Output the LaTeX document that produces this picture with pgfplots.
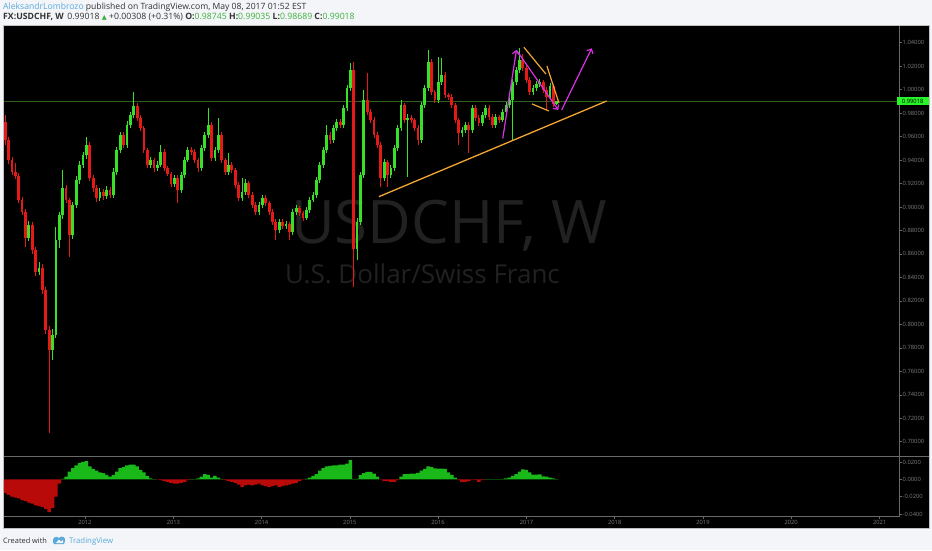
\documentclass[border=0pt]{standalone}
\usepackage{fontspec}
\setmainfont{Open Sans}
\newfontfamily\dejavu{DejaVu Sans}
\usepackage{pgfplots}
\pgfplotsset{compat=1.18}
\usepackage{pgfplotstable}
\usetikzlibrary{arrows.meta}

\definecolor{bgc}{RGB}{243,245,248}
\definecolor{upc}{RGB}{55,225,40}
\definecolor{dnc}{RGB}{230,25,25}
\definecolor{macdg}{RGB}{25,185,25}
\definecolor{macdr}{RGB}{185,10,10}
\definecolor{axgray}{RGB}{105,105,105}
\definecolor{lblgray}{RGB}{125,125,125}
\definecolor{pline}{RGB}{45,95,30}
\definecolor{wm}{RGB}{33,33,33}
\definecolor{orng}{RGB}{245,165,50}
\definecolor{mgnt}{RGB}{220,50,230}
\definecolor{tvblue}{RGB}{90,170,220}
\definecolor{hdr}{RGB}{50,50,50}
\definecolor{hgreen}{RGB}{60,175,60}
\definecolor{lastbox}{RGB}{40,245,40}

% weekly index (weeks since 1 Jan 2011), open high low close, histogram
\pgfplotstableread{
w o h l c m
5 0.9724 0.9784 0.9528 0.9571 -0.016
7 0.9571 0.9600 0.9370 0.9400 -0.018
9 0.9400 0.9430 0.9270 0.9298 -0.020
11 0.9298 0.9375 0.9240 0.9264 -0.021
13 0.9264 0.9290 0.9030 0.9060 -0.022
15 0.9060 0.9085 0.8930 0.8957 -0.024
17 0.8957 0.8980 0.8660 0.8736 -0.025
19 0.8736 0.8880 0.8710 0.8847 -0.027
21 0.8847 0.8870 0.8600 0.8634 -0.028
23 0.8634 0.8660 0.8410 0.8447 -0.030
25 0.8447 0.8530 0.8420 0.8481 -0.031
27 0.8481 0.8510 0.8260 0.8293 -0.032
29 0.8293 0.8320 0.7920 0.7952 -0.034
31 0.7952 0.7990 0.7070 0.7781 -0.038
33 0.7781 0.7960 0.7700 0.7910 -0.033
35 0.7910 0.8830 0.7880 0.8719 -0.020
37 0.8719 0.8960 0.8650 0.8932 -0.005
39 0.8932 0.9315 0.8900 0.9162 0.0005
41 0.9162 0.9190 0.9030 0.9060 0.003
43 0.9060 0.9080 0.8574 0.8762 0.009
45 0.8762 0.9040 0.8730 0.9017 0.013
47 0.9017 0.9260 0.8990 0.9230 0.016
49 0.9230 0.9390 0.9200 0.9358 0.019
51 0.9358 0.9470 0.9330 0.9443 0.020
53 0.9443 0.9597 0.9410 0.9528 0.021
55 0.9528 0.9550 0.9220 0.9247 0.015
57 0.9247 0.9270 0.9130 0.9162 0.012
59 0.9162 0.9190 0.9040 0.9077 0.010
61 0.9077 0.9160 0.9050 0.9128 0.008
63 0.9128 0.9150 0.9060 0.9094 0.007
65 0.9094 0.9175 0.9070 0.9145 0.005
67 0.9145 0.9170 0.9075 0.9102 0.003
69 0.9102 0.9330 0.9080 0.9298 0.005
71 0.9298 0.9510 0.9270 0.9486 0.009
73 0.9486 0.9640 0.9460 0.9614 0.013
75 0.9614 0.9640 0.9500 0.9528 0.014
77 0.9528 0.9730 0.9500 0.9699 0.016
79 0.9699 0.9810 0.9670 0.9784 0.017
81 0.9784 0.9980 0.9760 0.9861 0.017
83 0.9861 0.9890 0.9730 0.9758 0.015
85 0.9758 0.9780 0.9650 0.9673 0.011
87 0.9673 0.9690 0.9460 0.9486 0.008
89 0.9486 0.9500 0.9330 0.9358 0.004
91 0.9358 0.9430 0.9330 0.9400 0.001
93 0.9400 0.9420 0.9300 0.9332 0.0003
95 0.9332 0.9390 0.9310 0.9358 -0.0004
97 0.9358 0.9528 0.9340 0.9469 -0.001
99 0.9469 0.9490 0.9310 0.9332 -0.002
101 0.9332 0.9350 0.9260 0.9281 -0.003
103 0.9281 0.9300 0.9170 0.9196 -0.004
105 0.9196 0.9270 0.9170 0.9247 -0.005
107 0.9247 0.9270 0.9034 0.9145 -0.005
109 0.9145 0.9300 0.9120 0.9273 -0.004
111 0.9273 0.9430 0.9250 0.9400 -0.003
113 0.9400 0.9515 0.9380 0.9486 -0.001
115 0.9486 0.9510 0.9440 0.9469 0.0002
117 0.9469 0.9490 0.9375 0.9400 0.0002
119 0.9400 0.9420 0.9300 0.9332 0.001
121 0.9332 0.9530 0.9310 0.9503 0.003
123 0.9503 0.9640 0.9480 0.9614 0.006
125 0.9614 0.9844 0.9590 0.9699 0.005
127 0.9699 0.9720 0.9390 0.9417 0.002
129 0.9417 0.9510 0.9390 0.9486 0.004
131 0.9486 0.9758 0.9460 0.9614 0.002
133 0.9614 0.9640 0.9375 0.9400 0.0002
135 0.9400 0.9420 0.9270 0.9298 -0.001
137 0.9298 0.9460 0.9270 0.9358 -0.002
139 0.9358 0.9380 0.9290 0.9315 -0.003
141 0.9315 0.9335 0.9160 0.9188 -0.004
143 0.9188 0.9210 0.9050 0.9077 -0.006
145 0.9077 0.9247 0.9050 0.9128 -0.009
147 0.9128 0.9240 0.9100 0.9205 -0.007
149 0.9205 0.9225 0.9075 0.9102 -0.006
151 0.9102 0.9125 0.8990 0.9017 -0.007
153 0.9017 0.9040 0.8930 0.8957 -0.006
155 0.8957 0.9045 0.8930 0.9017 -0.005
157 0.9017 0.9105 0.8995 0.9077 -0.007
159 0.9077 0.9100 0.9010 0.9034 -0.008
161 0.9034 0.9055 0.8930 0.8957 -0.009
163 0.8957 0.8980 0.8845 0.8873 -0.008
165 0.8873 0.8895 0.8719 0.8804 -0.007
167 0.8804 0.8900 0.8780 0.8873 -0.009
169 0.8873 0.8895 0.8815 0.8839 -0.008
171 0.8839 0.8880 0.8810 0.8856 -0.007
173 0.8856 0.8875 0.8719 0.8787 -0.006
175 0.8787 0.8985 0.8760 0.8957 -0.005
177 0.8957 0.9015 0.8935 0.8992 -0.004
179 0.8992 0.9010 0.8925 0.8949 -0.002
181 0.8949 0.8970 0.8880 0.8907 -0.0005
183 0.8907 0.9000 0.8885 0.8974 0.0005
185 0.8974 0.9085 0.8950 0.9060 0.002
187 0.9060 0.9130 0.9040 0.9102 0.004
189 0.9102 0.9255 0.9080 0.9230 0.006
191 0.9230 0.9385 0.9205 0.9358 0.010
193 0.9358 0.9510 0.9335 0.9486 0.013
195 0.9486 0.9699 0.9460 0.9614 0.015
197 0.9614 0.9640 0.9540 0.9571 0.0155
199 0.9571 0.9700 0.9545 0.9673 0.016
201 0.9673 0.9750 0.9645 0.9724 0.016
203 0.9724 0.9750 0.9670 0.9699 0.017
205 0.9699 0.9870 0.9675 0.9844 0.017
207 0.9844 1.0040 0.9820 1.0014 0.018
209 1.0014 1.0227 0.9990 1.0167 0.022
211 1.0167 1.0236 0.8319 0.8643 0.0005
213 0.8643 0.8907 0.8548 0.8873 0.0005
215 0.8873 0.9300 0.8850 0.9273 0.005
217 0.9273 0.9997 0.9250 0.9912 0.007
219 0.9912 1.0142 0.9780 0.9809 0.0085
221 0.9809 0.9835 0.9715 0.9741 0.0085
223 0.9741 0.9765 0.9590 0.9614 0.0065
225 0.9614 0.9640 0.9500 0.9528 0.003
227 0.9528 0.9550 0.9170 0.9247 -0.0005
229 0.9247 0.9410 0.9220 0.9383 -0.002
231 0.9383 0.9400 0.9170 0.9273 -0.002
233 0.9273 0.9360 0.9245 0.9332 -0.003
235 0.9332 0.9530 0.9305 0.9503 -0.003
237 0.9503 0.9700 0.9480 0.9673 -0.001
239 0.9673 0.9912 0.9650 0.9869 0.003
241 0.9869 0.9890 0.9715 0.9741 0.006
243 0.9741 0.9790 0.9255 0.9758 0.006
245 0.9758 0.9785 0.9715 0.9741 0.0065
247 0.9741 0.9760 0.9650 0.9673 0.0065
249 0.9673 0.9695 0.9528 0.9571 0.0073
251 0.9571 0.9895 0.9545 0.9869 0.010
253 0.9869 1.0040 0.9845 1.0014 0.012
255 1.0014 1.0338 0.9990 1.0236 0.015
257 1.0236 1.0260 0.9955 0.9980 0.014
259 0.9980 1.0000 0.9885 0.9912 0.0125
261 0.9912 1.0278 0.9890 1.0065 0.0123
263 1.0065 1.0270 1.0040 1.0125 0.0122
265 1.0125 1.0150 0.9930 0.9954 0.012
267 0.9954 0.9975 0.9910 0.9937 0.008
269 0.9937 0.9960 0.9845 0.9869 0.005
271 0.9869 0.9890 0.9715 0.9741 0.002
273 0.9741 0.9760 0.9528 0.9631 -0.001
275 0.9631 0.9680 0.9600 0.9656 -0.003
277 0.9656 0.9725 0.9630 0.9699 -0.003
279 0.9699 0.9720 0.9460 0.9656 -0.002
281 0.9656 0.9870 0.9630 0.9844 -0.0005
283 0.9844 0.9865 0.9735 0.9758 -0.001
285 0.9758 0.9780 0.9690 0.9716 -0.003
287 0.9716 0.9810 0.9690 0.9784 -0.001
289 0.9784 0.9870 0.9760 0.9844 0.0002
291 0.9844 0.9865 0.9740 0.9767 0.0002
293 0.9767 0.9790 0.9670 0.9699 0.0002
295 0.9699 0.9795 0.9675 0.9767 0.0002
297 0.9767 0.9785 0.9715 0.9741 0.0003
299 0.9741 0.9835 0.9720 0.9809 0.0005
301 0.9809 0.9895 0.9785 0.9869 0.001
303 0.9869 0.9940 0.9845 0.9912 0.002
305 0.9912 1.0090 0.9571 1.0065 0.004
307 1.0065 1.0195 1.0040 1.0167 0.006
309 1.0167 1.0355 1.0140 1.0253 0.009
311 1.0253 1.0300 1.0160 1.0185 0.0115
313 1.0185 1.0210 1.0055 1.0082 0.011
315 1.0082 1.0105 0.9955 0.9980 0.008
317 0.9980 1.0040 0.9955 1.0014 0.0055
319 1.0014 1.0075 0.9990 1.0048 0.0055
321 1.0048 1.0090 1.0020 1.0065 0.0058
323 1.0065 1.0085 0.9970 0.9997 0.0035
325 0.9997 1.0020 0.9826 0.9937 0.003
327 0.9937 1.0060 0.9910 1.0031 0.002
329 1.0031 1.0050 0.9850 0.9878 0.001
331 0.9875 0.9904 0.9869 0.9902 0.0002
}\usdchf

\begin{document}
\begin{tikzpicture}
\useasboundingbox (0pt,0pt) rectangle (932pt,550pt);
% page, chart area
\fill[bgc] (0pt,0pt) rectangle (932pt,550pt);
\fill[black] (4pt,22pt) rectangle (928.5pt,524pt);
\draw[black!25, line width=0.6pt] (3.7pt,21.7pt) rectangle (928.8pt,524.3pt);

% header
\node[anchor=base west, inner sep=0pt, font=\fontsize{8.6}{9}\selectfont] at (3pt,540.5pt)
  {\textcolor{tvblue}{AleksandrLombrozo} \textcolor{hdr}{published on TradingView.com, May 08, 2017 01:52 EST}};
\node[anchor=base west, inner sep=0pt, font=\fontsize{8.7}{9}\selectfont, text=hdr] at (3pt,530.5pt)
  {\textbf{FX:USDCHF, W}\, 0.99018 {\dejavu\fontsize{6.5}{7}\selectfont\textcolor{hgreen}{▲}} +0.00308 (+0.31\%) \textbf{O:}\textcolor{hgreen}{0.98745} \textbf{H:}\textcolor{hgreen}{0.99035} \textbf{L:}\textcolor{hgreen}{0.98689} \textbf{C:}\textcolor{hgreen}{0.99018}};

% footer
\node[anchor=base west, inner sep=0pt, font=\fontsize{7.4}{8}\selectfont, text=hdr] at (3pt,7pt) {Created with};
\fill[tvblue] (53pt,8pt) .. controls (52pt,12pt) and (56pt,15pt) .. (59pt,12pt) .. controls (61pt,15pt) and (66pt,13pt) .. (65pt,9pt) -- (64pt,6pt) -- (54pt,6pt) -- cycle;
\fill[bgc] (56pt,7pt) -- (59pt,10.5pt) -- (61pt,8.5pt) -- (63pt,10pt) -- (63pt,7pt) -- cycle;
\node[anchor=base west, inner sep=0pt, font=\fontsize{7.8}{8}\selectfont, text=tvblue] at (69pt,7pt) {TradingView};

% watermark
\node[anchor=base west, inner sep=0pt, text=wm, font=\fontsize{60}{60}\selectfont] at (291pt,307pt) {USDCHF, W};
\node[anchor=base west, inner sep=0pt, text=wm, font=\fontsize{26}{26}\selectfont] at (285pt,266.5pt) {U.S. Dollar/Swiss Franc};

% pane divider
\draw[axgray, line width=0.6pt] (4pt,93.3pt) -- (928.5pt,93.3pt);

\begin{axis}[
  at={(4pt,93.3pt)}, anchor=south west, scale only axis,
  width=895pt, height=430.7pt,
  xmin=4.31, xmax=533.3, ymin=0.68721, ymax=1.05423,
  axis x line=none, axis y line*=right,
  axis line style={draw=axgray, line width=0.6pt},
  ytick={0.70,0.72,0.74,0.76,0.78,0.80,0.82,0.84,0.86,0.88,0.90,0.92,0.94,0.96,0.98,1.00,1.02,1.04},
  scaled y ticks=false,
  tick align=outside, major tick length=2.5pt,
  tick style={draw=axgray, line width=0.5pt},
  yticklabel style={font=\fontsize{5.8}{6}\selectfont, text=lblgray, anchor=west, inner sep=1pt,
    /pgf/number format/fixed, /pgf/number format/fixed zerofill,
    /pgf/number format/precision=5, /pgf/number format/assume math mode=true},
]
% last price line
\addplot[pline, line width=0.8pt, forget plot] coordinates {(4.31,0.99018) (533.3,0.99018)};
% wicks
\addplot[forget plot, draw=none, mark=none,
  restrict expr to domain={\thisrow{c}-\thisrow{o}}{0:1},
  error bars/.cd, y dir=minus, y explicit, error mark=none,
  error bar style={draw=upc, line width=0.85pt}]
  table[x=w, y=h, y error minus expr=\thisrow{h}-\thisrow{l}] {\usdchf};
\addplot[forget plot, draw=none, mark=none,
  restrict expr to domain={\thisrow{c}-\thisrow{o}}{-1:0},
  error bars/.cd, y dir=minus, y explicit, error mark=none,
  error bar style={draw=dnc, line width=0.85pt}]
  table[x=w, y=h, y error minus expr=\thisrow{h}-\thisrow{l}] {\usdchf};
% bodies
\addplot[forget plot, draw=none, mark=none,
  restrict expr to domain={\thisrow{c}-\thisrow{o}}{0:1},
  error bars/.cd, y dir=minus, y explicit, error mark=none,
  error bar style={draw=upc, line width=2.8pt}]
  table[x=w, y=c, y error minus expr={max(\thisrow{c}-\thisrow{o},0.0010)}] {\usdchf};
\addplot[forget plot, draw=none, mark=none,
  restrict expr to domain={\thisrow{c}-\thisrow{o}}{-1:0},
  error bars/.cd, y dir=minus, y explicit, error mark=none,
  error bar style={draw=dnc, line width=2.8pt}]
  table[x=w, y=o, y error minus expr={max(\thisrow{o}-\thisrow{c},0.0010)}] {\usdchf};
% drawings
\draw[orng, line width=1.3pt] (axis cs:225.9,0.9088) -- (axis cs:360.5,0.9903);
\draw[orng, line width=1.2pt] (axis cs:311.6,1.0361) -- (axis cs:324.6,1.0133);
\draw[orng, line width=1.2pt] (axis cs:325.2,1.0201) -- (axis cs:332.3,0.9886);
\draw[orng, line width=1.2pt] (axis cs:316.4,0.9878) -- (axis cs:326.4,0.9818);
\draw[mgnt, line width=1.2pt, -{Straight Barb[length=3.5pt,width=7pt]}] (axis cs:299.1,0.9584) -- (axis cs:307.2,1.0338);
\draw[mgnt, line width=1.2pt, -{Straight Barb[length=3.5pt,width=7pt]}] (axis cs:307.4,1.0332) -- (axis cs:331.9,0.9827);
\draw[mgnt, line width=1.2pt, -{Straight Barb[length=3.5pt,width=7pt]}] (axis cs:333.9,0.9827) -- (axis cs:351.7,1.0352);
\end{axis}

% last price tag
\fill[lastbox] (897pt,444.6pt) rectangle (928.5pt,453.4pt);
\node[font=\fontsize{5.8}{6}\selectfont, text=black, inner sep=0pt] at (912.7pt,449pt) {0.99018};

\begin{axis}[
  at={(4pt,33.3pt)}, anchor=south west, scale only axis,
  width=895pt, height=60pt,
  xmin=4.31, xmax=533.3, ymin=-0.04315, ymax=0.02608,
  axis x line*=bottom, axis y line*=right,
  axis line style={draw=axgray, line width=0.6pt},
  tick align=outside, major tick length=2.5pt,
  tick style={draw=axgray, line width=0.5pt},
  xtick={52.14,104.43,156.57,208.71,260.86,313.14,365.29,417.43,469.57,521.86},
  xticklabels={2012,2013,2014,2015,2016,2017,2018,2019,2020,2021},
  ytick={-0.04,-0.02,0,0.02},
  scaled y ticks=false,
  xticklabel style={font=\fontsize{5.8}{6}\selectfont, text=lblgray, inner sep=1pt},
  yticklabel style={font=\fontsize{5.8}{6}\selectfont, text=lblgray, anchor=west, inner sep=1pt,
    /pgf/number format/fixed, /pgf/number format/fixed zerofill,
    /pgf/number format/precision=4, /pgf/number format/assume math mode=true},
]
\addplot[ybar, bar width=3.5pt, bar shift=0pt, fill=macdg, draw=none,
  restrict y to domain=0:1] table[x=w, y=m] {\usdchf};
\addplot[ybar, bar width=3.5pt, bar shift=0pt, fill=macdr, draw=none,
  restrict y to domain=-1:0] table[x=w, y=m] {\usdchf};
\end{axis}
\end{tikzpicture}
\end{document}
